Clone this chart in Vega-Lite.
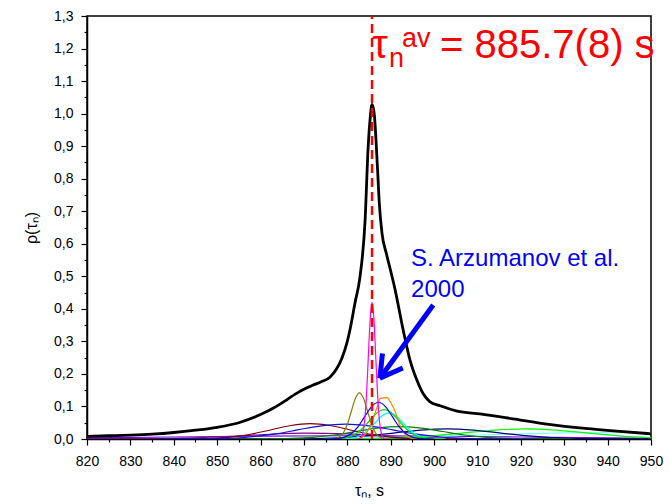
{
"$schema": "https://vega.github.io/schema/vega-lite/v6.json",
"width": 564, "height": 423,
"autosize": {"type": "none"},
"padding": {"left": 87, "top": 16, "right": 19, "bottom": 65},
"background": "white",
"config": {"view": {"stroke": "black", "strokeWidth": 1.5}, "font": "Liberation Sans"},
"datasets": {
"curves": [
{"s":"purple","x":820,"y":0.0001},{"s":"purple","x":830,"y":0.0004},{"s":"purple","x":840,"y":0.0019},{"s":"purple","x":850,"y":0.0061},{"s":"purple","x":860,"y":0.0131},{"s":"purple","x":870,"y":0.0178},{"s":"purple","x":880,"y":0.0156},{"s":"purple","x":890,"y":0.0088},{"s":"purple","x":900,"y":0.0032},{"s":"purple","x":910,"y":0.0007},{"s":"purple","x":920,"y":0.0001},{"s":"purple","x":930,"y":0},
{"s":"violet","x":820,"y":0.0032},{"s":"violet","x":840,"y":0.0061},{"s":"violet","x":860,"y":0.0088},{"s":"violet","x":880,"y":0.01},{"s":"violet","x":900,"y":0.0088},{"s":"violet","x":920,"y":0.0061},{"s":"violet","x":940,"y":0.0032},{"s":"violet","x":950,"y":0.0022},
{"s":"lightcyan","x":860,"y":0.0006},{"s":"lightcyan","x":870,"y":0.0013},{"s":"lightcyan","x":880,"y":0.0027},{"s":"lightcyan","x":890,"y":0.005},{"s":"lightcyan","x":900,"y":0.0082},{"s":"lightcyan","x":910,"y":0.0121},{"s":"lightcyan","x":920,"y":0.016},{"s":"lightcyan","x":930,"y":0.0189},{"s":"lightcyan","x":940,"y":0.02},{"s":"lightcyan","x":950,"y":0.0189},
{"s":"lime","x":865,"y":0},{"s":"lime","x":872,"y":0.0001},{"s":"lime","x":879,"y":0.0003},{"s":"lime","x":886,"y":0.0014},{"s":"lime","x":893,"y":0.0042},{"s":"lime","x":900,"y":0.0101},{"s":"lime","x":907,"y":0.0188},{"s":"lime","x":914,"y":0.0274},{"s":"lime","x":921,"y":0.031},{"s":"lime","x":928,"y":0.0274},{"s":"lime","x":935,"y":0.0188},{"s":"lime","x":942,"y":0.0101},{"s":"lime","x":949,"y":0.0042},{"s":"lime","x":950,"y":0.0037},
{"s":"navy","x":855,"y":0},{"s":"navy","x":861,"y":0.0001},{"s":"navy","x":867,"y":0.0003},{"s":"navy","x":873,"y":0.0014},{"s":"navy","x":879,"y":0.0042},{"s":"navy","x":885,"y":0.0101},{"s":"navy","x":891,"y":0.0188},{"s":"navy","x":897,"y":0.0274},{"s":"navy","x":903,"y":0.031},{"s":"navy","x":909,"y":0.0274},{"s":"navy","x":915,"y":0.0188},{"s":"navy","x":921,"y":0.0101},{"s":"navy","x":927,"y":0.0042},{"s":"navy","x":933,"y":0.0014},{"s":"navy","x":939,"y":0.0003},{"s":"navy","x":945,"y":0.0001},{"s":"navy","x":950,"y":0},
{"s":"darkgreen","x":852,"y":0},{"s":"darkgreen","x":857,"y":0.0001},{"s":"darkgreen","x":862,"y":0.0004},{"s":"darkgreen","x":867,"y":0.0017},{"s":"darkgreen","x":872,"y":0.0051},{"s":"darkgreen","x":877,"y":0.0123},{"s":"darkgreen","x":882,"y":0.0231},{"s":"darkgreen","x":887,"y":0.0335},{"s":"darkgreen","x":892,"y":0.038},{"s":"darkgreen","x":897,"y":0.0335},{"s":"darkgreen","x":902,"y":0.0231},{"s":"darkgreen","x":907,"y":0.0123},{"s":"darkgreen","x":912,"y":0.0051},{"s":"darkgreen","x":917,"y":0.0017},{"s":"darkgreen","x":922,"y":0.0004},{"s":"darkgreen","x":927,"y":0.0001},{"s":"darkgreen","x":932,"y":0},
{"s":"maroon","x":835.5,"y":0},{"s":"maroon","x":840,"y":0.0001},{"s":"maroon","x":844.5,"y":0.0005},{"s":"maroon","x":849,"y":0.0021},{"s":"maroon","x":853.5,"y":0.0064},{"s":"maroon","x":858,"y":0.0153},{"s":"maroon","x":862.5,"y":0.0285},{"s":"maroon","x":867,"y":0.0415},{"s":"maroon","x":871.5,"y":0.047},{"s":"maroon","x":876,"y":0.0415},{"s":"maroon","x":880.5,"y":0.0285},{"s":"maroon","x":885,"y":0.0153},{"s":"maroon","x":889.5,"y":0.0064},{"s":"maroon","x":894,"y":0.0021},{"s":"maroon","x":898.5,"y":0.0005},{"s":"maroon","x":903,"y":0.0001},{"s":"maroon","x":907.5,"y":0},
{"s":"bluewide","x":835.5,"y":0},{"s":"bluewide","x":841,"y":0.0001},{"s":"bluewide","x":846.5,"y":0.0005},{"s":"bluewide","x":852,"y":0.002},{"s":"bluewide","x":857.5,"y":0.0062},{"s":"bluewide","x":863,"y":0.0149},{"s":"bluewide","x":868.5,"y":0.0279},{"s":"bluewide","x":874,"y":0.0406},{"s":"bluewide","x":879.5,"y":0.046},{"s":"bluewide","x":885,"y":0.0406},{"s":"bluewide","x":890.5,"y":0.0279},{"s":"bluewide","x":896,"y":0.0149},{"s":"bluewide","x":901.5,"y":0.0062},{"s":"bluewide","x":907,"y":0.002},{"s":"bluewide","x":912.5,"y":0.0005},{"s":"bluewide","x":918,"y":0.0001},{"s":"bluewide","x":923.5,"y":0},
{"s":"olive","x":875.4,"y":0},{"s":"olive","x":876.33,"y":0.0003},{"s":"olive","x":877.25,"y":0.0016},{"s":"olive","x":878.18,"y":0.0062},{"s":"olive","x":879.1,"y":0.0192},{"s":"olive","x":880.03,"y":0.0461},{"s":"olive","x":880.95,"y":0.0861},{"s":"olive","x":881.88,"y":0.1253},{"s":"olive","x":882.8,"y":0.142},{"s":"olive","x":883.73,"y":0.1253},{"s":"olive","x":884.65,"y":0.0861},{"s":"olive","x":885.58,"y":0.0461},{"s":"olive","x":886.5,"y":0.0192},{"s":"olive","x":887.43,"y":0.0062},{"s":"olive","x":888.35,"y":0.0016},{"s":"olive","x":889.28,"y":0.0003},{"s":"olive","x":890.2,"y":0},
{"s":"cyan","x":876.4,"y":0},{"s":"cyan","x":878.05,"y":0.0002},{"s":"cyan","x":879.7,"y":0.0009},{"s":"cyan","x":881.35,"y":0.0035},{"s":"cyan","x":883.0,"y":0.0108},{"s":"cyan","x":884.65,"y":0.026},{"s":"cyan","x":886.3,"y":0.0485},{"s":"cyan","x":887.95,"y":0.0706},{"s":"cyan","x":889.6,"y":0.08},{"s":"cyan","x":891.25,"y":0.0706},{"s":"cyan","x":892.9,"y":0.0485},{"s":"cyan","x":894.55,"y":0.026},{"s":"cyan","x":896.2,"y":0.0108},{"s":"cyan","x":897.85,"y":0.0035},{"s":"cyan","x":899.5,"y":0.0009},{"s":"cyan","x":901.15,"y":0.0002},{"s":"cyan","x":902.8,"y":0},
{"s":"green","x":874.5,"y":0},{"s":"green","x":876.25,"y":0.0002},{"s":"green","x":878.0,"y":0.001},{"s":"green","x":879.75,"y":0.004},{"s":"green","x":881.5,"y":0.0122},{"s":"green","x":883.25,"y":0.0292},{"s":"green","x":885.0,"y":0.0546},{"s":"green","x":886.75,"y":0.0794},{"s":"green","x":888.5,"y":0.09},{"s":"green","x":890.25,"y":0.0794},{"s":"green","x":892.0,"y":0.0546},{"s":"green","x":893.75,"y":0.0292},{"s":"green","x":895.5,"y":0.0122},{"s":"green","x":897.25,"y":0.004},{"s":"green","x":899.0,"y":0.001},{"s":"green","x":900.75,"y":0.0002},{"s":"green","x":902.5,"y":0},
{"s":"orange","x":882.5,"y":0},{"s":"orange","x":884,"y":0.012},{"s":"orange","x":885.5,"y":0.047},{"s":"orange","x":887.0,"y":0.103},{"s":"orange","x":887.6,"y":0.125},{"s":"orange","x":889.2,"y":0.127},{"s":"orange","x":890.0,"y":0.112},{"s":"orange","x":891.0,"y":0.085},{"s":"orange","x":892.2,"y":0.04},{"s":"orange","x":893.5,"y":0.012},{"s":"orange","x":895,"y":0.002},{"s":"orange","x":897,"y":0},
{"s":"blue","x":874.4,"y":0},{"s":"blue","x":876.0,"y":0.0002},{"s":"blue","x":877.6,"y":0.0013},{"s":"blue","x":879.2,"y":0.005},{"s":"blue","x":880.8,"y":0.0153},{"s":"blue","x":882.4,"y":0.0367},{"s":"blue","x":884.0,"y":0.0685},{"s":"blue","x":885.6,"y":0.0997},{"s":"blue","x":887.2,"y":0.113},{"s":"blue","x":888.8,"y":0.0997},{"s":"blue","x":890.4,"y":0.0685},{"s":"blue","x":892.0,"y":0.0367},{"s":"blue","x":893.6,"y":0.0153},{"s":"blue","x":895.2,"y":0.005},{"s":"blue","x":896.8,"y":0.0013},{"s":"blue","x":898.4,"y":0.0002},{"s":"blue","x":900.0,"y":0},
{"s":"magenta","x":882.3,"y":0},{"s":"magenta","x":882.73,"y":0.0009},{"s":"magenta","x":883.15,"y":0.0047},{"s":"magenta","x":883.58,"y":0.0184},{"s":"magenta","x":884.0,"y":0.0568},{"s":"magenta","x":884.43,"y":0.1364},{"s":"magenta","x":884.85,"y":0.2547},{"s":"magenta","x":885.28,"y":0.3707},{"s":"magenta","x":885.7,"y":0.42},{"s":"magenta","x":886.13,"y":0.3707},{"s":"magenta","x":886.55,"y":0.2547},{"s":"magenta","x":886.98,"y":0.1364},{"s":"magenta","x":887.4,"y":0.0568},{"s":"magenta","x":887.83,"y":0.0184},{"s":"magenta","x":888.25,"y":0.0047},{"s":"magenta","x":888.68,"y":0.0009},{"s":"magenta","x":889.1,"y":0}
],
"black": [
{"x":820,"y":0.008},{"x":825,"y":0.01},{"x":830,"y":0.012},{"x":835,"y":0.015},{"x":840,"y":0.02},{"x":845,"y":0.027},{"x":850,"y":0.036},{"x":855,"y":0.05},{"x":860,"y":0.075},{"x":863,"y":0.095},{"x":866,"y":0.12},{"x":868,"y":0.138},{"x":870,"y":0.153},{"x":872,"y":0.165},{"x":874,"y":0.176},{"x":876,"y":0.19},{"x":877.5,"y":0.215},{"x":878.8,"y":0.25},{"x":880,"y":0.3},{"x":880.6,"y":0.335},{"x":881.8,"y":0.42},{"x":882.9,"y":0.496},{"x":884.1,"y":0.672},{"x":884.8,"y":0.896},{"x":885.3,"y":0.99},{"x":885.7,"y":1.028},{"x":886.2,"y":1.0},{"x":886.9,"y":0.847},{"x":887.4,"y":0.72},{"x":888.0,"y":0.632},{"x":889.0,"y":0.57},{"x":889.8,"y":0.527},{"x":891,"y":0.46},{"x":892.8,"y":0.34},{"x":894.5,"y":0.24},{"x":896.1,"y":0.179},{"x":897.5,"y":0.139},{"x":899,"y":0.115},{"x":901.4,"y":0.102},{"x":905.3,"y":0.086},{"x":910.6,"y":0.077},{"x":918.2,"y":0.062},{"x":926,"y":0.046},{"x":933.6,"y":0.034},{"x":941.3,"y":0.025},{"x":950,"y":0.016}
],
"avg": [{"x":885.7,"y":0,"y2":1.3}],
"arrow": [{"x":899.8,"y":0.412,"x2":887.5,"y2":0.187},{"x":892.8,"y":0.218,"x2":887.5,"y2":0.187},{"x":888.1,"y":0.263,"x2":887.5,"y2":0.187}],
"red": [{"x":885.7,"y":1.171,"p":"tau","t":"τ"},{"x":885.7,"y":1.171,"p":"sub","t":"n"},{"x":885.7,"y":1.171,"p":"sup","t":"av"},{"x":885.7,"y":1.171,"p":"val","t":"= 885.7(8) s"}],
"blue": [{"x":894.7,"y":0.532,"t":"S. Arzumanov et al."},{"x":894.7,"y":0.436,"t":"2000"}]
},
"encoding": {
"x": {"field": "x", "type": "quantitative", "scale": {"domain": [820, 950], "nice": false, "zero": false},
 "axis": {"title": "τₙ, s", "values": [820,825,830,835,840,845,850,855,860,865,870,875,880,885,890,895,900,905,910,915,920,925,930,935,940,945,950],
  "labelExpr": "datum.value % 10 === 0 ? datum.label : ''", "tickSize": {"condition": {"test": "datum.value % 10 === 0", "value": 6}, "value": 3},
  "grid": false, "domainColor": "black", "domainWidth": 1.5, "tickColor": "black", "tickWidth": 1.2, "labelColor": "black", "labelFontSize": 14, "labelPadding": 9, "labelFlush": false, "labelOverlap": false,
  "titleFontSize": 16, "titleFontWeight": "normal", "titleColor": "black", "titlePadding": 14}},
"y": {"field": "y", "type": "quantitative", "scale": {"domain": [0, 1.3], "nice": false, "zero": false},
 "axis": {"title": "ρ(τₙ)", "values": [0,0.05,0.1,0.15,0.2,0.25,0.3,0.35,0.4,0.45,0.5,0.55,0.6,0.65,0.7,0.75,0.8,0.85,0.9,0.95,1.0,1.05,1.1,1.15,1.2,1.25,1.3],
  "labelExpr": "round(datum.value*20) % 2 === 0 ? replace(format(datum.value, '.1f'), '.', ',') : ''", "tickSize": {"condition": {"test": "round(datum.value*20) % 2 === 0", "value": 6}, "value": 3},
  "grid": false, "domainColor": "black", "domainWidth": 1.5, "tickColor": "black", "tickWidth": 1.2, "labelColor": "black", "labelFontSize": 14, "labelPadding": 8, "labelOverlap": false, "labelFlush": false,
  "titleFontSize": 16, "titleFontWeight": "normal", "titleColor": "black", "titlePadding": 14}}
},
"layer": [
{"data": {"name": "curves"}, "mark": {"type": "line", "strokeWidth": 1.2, "interpolate": "monotone", "clip": true},
 "encoding": {"detail": {"field": "s"}, "color": {"field": "s", "type": "nominal", "legend": null,
  "scale": {"domain": ["purple","violet","lightcyan","lime","navy","darkgreen","maroon","bluewide","olive","cyan","green","orange","blue","magenta"],
  "range": ["#800080","#7000E0","#80FFFF","#00FF00","#000080","#008000","#800000","#1010E0","#808000","#00FFFF","#00DD00","#FF8000","#0000FF","#FF00FF"]}}}},
{"data": {"name": "black"}, "mark": {"type": "line", "color": "black", "strokeWidth": 2.8, "interpolate": "monotone"}, "encoding": {}},
{"data": {"name": "avg"}, "mark": {"type": "rule", "color": "#FF0000", "strokeWidth": 2.5, "strokeDash": [9, 5]}, "encoding": {"y2": {"field": "y2"}}},
{"data": {"name": "arrow"}, "mark": {"type": "rule", "color": "#0000FF", "strokeWidth": 5, "strokeCap": "butt"}, "encoding": {"x2": {"field": "x2"}, "y2": {"field": "y2"}}},
{"data": {"name": "red"}, "transform": [{"filter": "datum.p === 'tau'"}], "mark": {"type": "text", "align": "left", "baseline": "alphabetic", "fontSize": 40, "color": "#FF0000"}, "encoding": {"text": {"field": "t"}}},
{"data": {"name": "red"}, "transform": [{"filter": "datum.p === 'sub'"}], "mark": {"type": "text", "align": "left", "baseline": "alphabetic", "fontSize": 27, "dx": 17, "dy": 9, "color": "#FF0000"}, "encoding": {"text": {"field": "t"}}},
{"data": {"name": "red"}, "transform": [{"filter": "datum.p === 'sup'"}], "mark": {"type": "text", "align": "left", "baseline": "alphabetic", "fontSize": 27, "dx": 30, "dy": -11, "color": "#FF0000"}, "encoding": {"text": {"field": "t"}}},
{"data": {"name": "red"}, "transform": [{"filter": "datum.p === 'val'"}], "mark": {"type": "text", "align": "left", "baseline": "alphabetic", "fontSize": 40, "dx": 68, "color": "#FF0000"}, "encoding": {"text": {"field": "t"}}},
{"data": {"name": "blue"}, "mark": {"type": "text", "align": "left", "baseline": "alphabetic", "fontSize": 24, "color": "#0000FF"}, "encoding": {"text": {"field": "t"}}}
]
}
